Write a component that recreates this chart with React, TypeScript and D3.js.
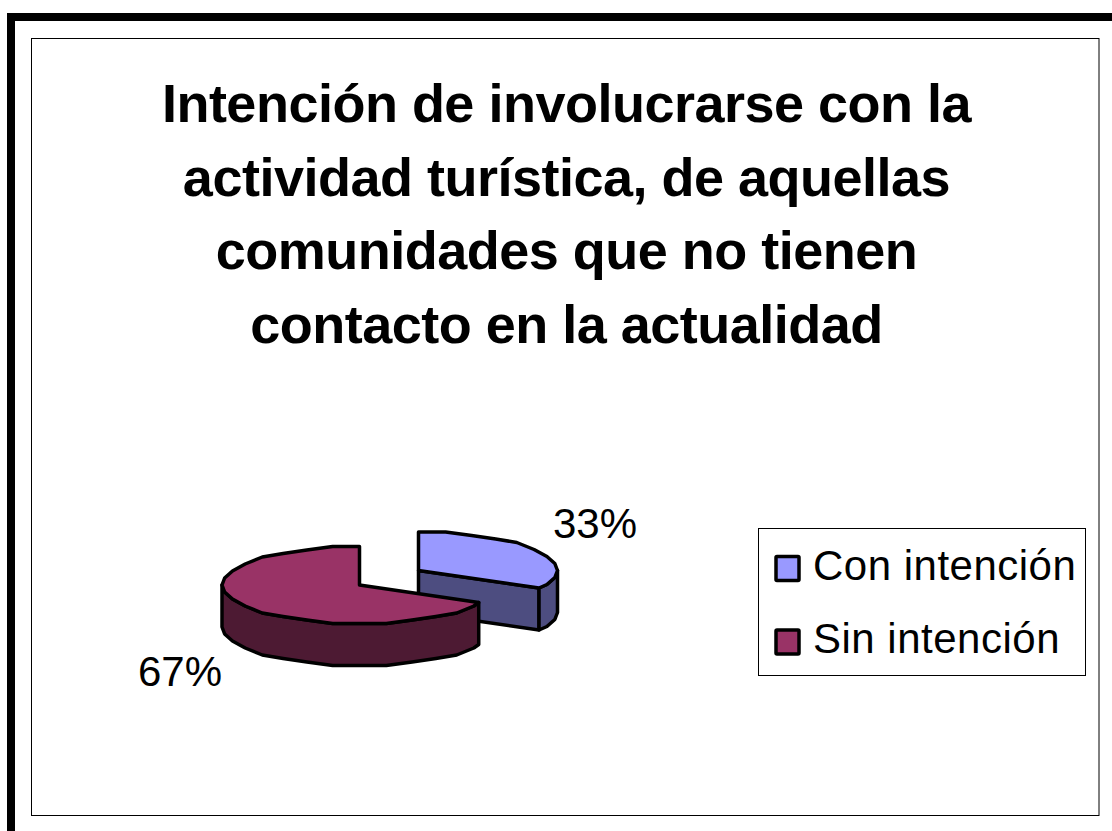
import React from "react";
import * as d3 from "d3";

const categories = ["Con intención", "Sin intención"];
const shareValues = [33.3, 66.7];
const shareLabels = ["33%", "67%"];
const titleLines = [
  "Intención de involucrarse con la",
  "actividad turística, de aquellas",
  "comunidades que no tienen",
  "contacto en la actualidad",
];
const topColors = ["#9999FF", "#993366"];
const sideColors = ["#4D4D80", "#4D1A33"];

const FONT = "'Liberation Sans', Arial, sans-serif";
const RY = 38.5;
const DEPTH = 42;
const STEP = Math.PI / 16;
const GRID = 3.5;
const centers = [
  { x: 418.5, y: 570.5, rx: 139 },
  { x: 359.5, y: 585, rx: 137.5 },
];

type P = [number, number];
type C = { x: number; y: number; rx: number };

function arcAngles(a0: number, a1: number): number[] {
  const out = [a0];
  const first = Math.ceil(a0 / STEP + 1e-6);
  for (let i = first; i * STEP < a1 - 0.02; i++) out.push(i * STEP);
  out.push(a1);
  return out;
}
// The reference outline is coarse: the rim snaps to a vertical grid, so it reads as facets.
function at(c: C, a: number, dy = 0): P {
  return [c.x + c.rx * Math.sin(a), c.y + Math.round((-RY * Math.cos(a)) / GRID) * GRID + dy];
}
const line = d3.line<P>();
const closed = (pts: P[]) => line(pts) + "Z";

export default function App() {
  const arcs = d3.pie<number>().sort(null).startAngle(0).endAngle(2 * Math.PI)(shareValues);
  const strokeW = 3.5;

  const walls = arcs.map((s, i) => {
    const c = centers[i];
    const wallPaths: string[] = [];
    if (i === 0) {
      const e = s.endAngle;
      wallPaths.push(closed([[c.x, c.y], at(c, e), at(c, e, DEPTH), [c.x, c.y + DEPTH]]));
      const a = arcAngles(Math.PI / 2, e);
      const top = a.map((v) => at(c, v));
      const bottom = a.map((v) => at(c, v, DEPTH)).reverse();
      wallPaths.push(closed([...top, ...bottom]));
    } else {
      const a = arcAngles(s.startAngle, 1.5 * Math.PI);
      const top = a.map((v) => at(c, v));
      const bottom = a.map((v) => at(c, v, DEPTH)).reverse();
      wallPaths.push(closed([...top, ...bottom]));
    }
    const topPts: P[] = [[c.x, c.y], ...arcAngles(s.startAngle, s.endAngle).map((v) => at(c, v))];
    return { wallPaths, top: closed(topPts) };
  });

  return (
    <svg
      width={1112}
      height={831}
      viewBox="0 0 1112 831"
      style={{ position: "absolute", left: 0, top: 0, display: "block", background: "#fff" }}
    >
      <path d="M11 831V17H1112" fill="none" stroke="#000" strokeWidth={8} />
      <rect x={31.5} y={38.5} width={1067.5} height={777} fill="#fff" stroke="#000" strokeWidth={1} />

      {titleLines.map((t, i) => (
        <text
          key={t}
          x={566.5}
          y={122 + i * 73.5}
          textAnchor="middle"
          fontFamily={FONT}
          fontWeight={700}
          fontSize={54}
          letterSpacing={-0.5}
          fill="#000"
        >
          {t}
        </text>
      ))}

      {walls.map((w, i) => (
        <g key={categories[i]} stroke="#000" strokeWidth={strokeW} strokeLinejoin="round">
          {w.wallPaths.map((d) => (
            <path key={d} d={d} fill={sideColors[i]} />
          ))}
          <path d={w.top} fill={topColors[i]} />
        </g>
      ))}

      <text x={595} y={538} textAnchor="middle" fontFamily={FONT} fontSize={42} fill="#000">
        {shareLabels[0]}
      </text>
      <text x={180} y={686} textAnchor="middle" fontFamily={FONT} fontSize={42} fill="#000">
        {shareLabels[1]}
      </text>

      <rect x={758.5} y={528.5} width={327} height={147} fill="#fff" stroke="#000" strokeWidth={1} />
      {categories.map((c, i) => (
        <g key={c}>
          <rect
            x={776}
            y={556.5 + i * 73.5}
            width={23}
            height={24}
            rx={1}
            fill={topColors[i]}
            stroke="#000"
            strokeWidth={3.5}
          />
          <text x={813} y={580 + i * 73} fontFamily={FONT} fontSize={42} letterSpacing={0.5} fill="#000">
            {c}
          </text>
        </g>
      ))}
    </svg>
  );
}
